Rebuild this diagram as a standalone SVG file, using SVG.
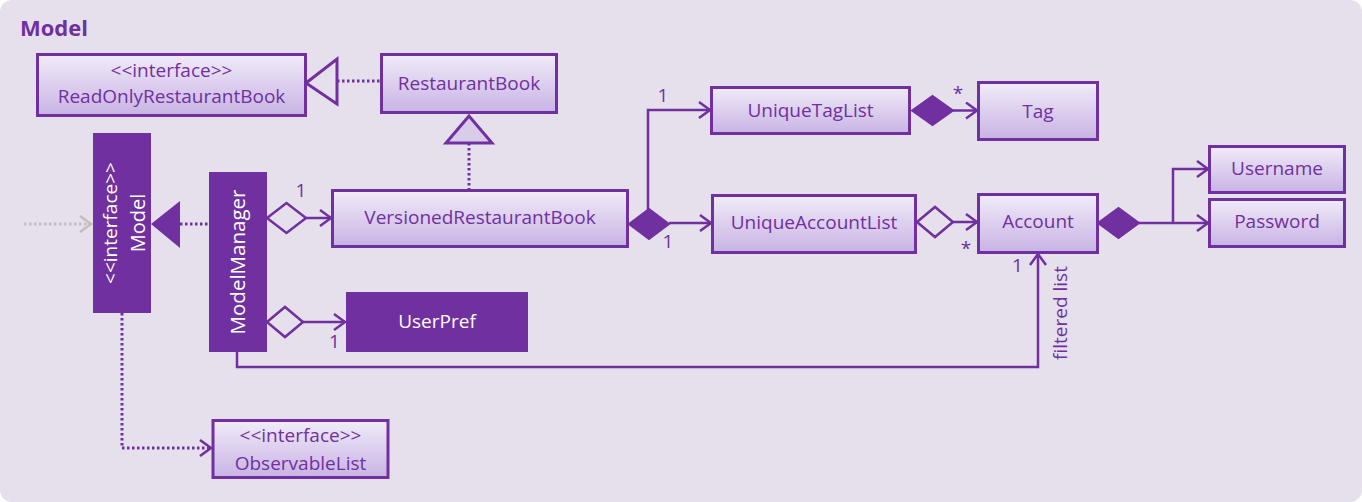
<svg xmlns="http://www.w3.org/2000/svg" width="1362" height="502" viewBox="0 0 1362 502">
<defs>
<linearGradient id="g" x1="0" y1="0" x2="0" y2="1">
<stop offset="0" stop-color="#F1EBF9"/>
<stop offset="1" stop-color="#C8B3E4"/>
</linearGradient>
<marker id="ah" markerWidth="16" markerHeight="18" refX="13" refY="9" orient="auto" markerUnits="userSpaceOnUse">
<path d="M2,1 L13,9 L2,17" fill="none" stroke="#7030A0" stroke-width="2.5"/>
</marker>
<marker id="ahg" markerWidth="16" markerHeight="18" refX="13" refY="9" orient="auto" markerUnits="userSpaceOnUse">
<path d="M2,1 L13,9 L2,17" fill="none" stroke="#BFBFBF" stroke-width="2.5"/>
</marker>
</defs>
<style>
.box{fill:url(#g);stroke:#7030A0;stroke-width:3}
.dark{fill:#7030A0;stroke:#7030A0;stroke-width:1}
.t{font-family:"Open Sans","Liberation Sans",sans-serif;font-size:19px;fill:#7030A0;text-anchor:middle}
.w{font-family:"Open Sans","Liberation Sans",sans-serif;font-size:19px;fill:#FFFFFF;text-anchor:middle}
.lbl{font-family:"Open Sans","Liberation Sans",sans-serif;font-size:19px;fill:#7030A0;text-anchor:middle}
.ln{fill:none;stroke:#7030A0;stroke-width:2.5}
.dot{fill:none;stroke:#7030A0;stroke-width:3;stroke-dasharray:2.5 2.5}
.dotg{fill:none;stroke:#BFBFBF;stroke-width:3;stroke-dasharray:2.5 2.5}
.hd{fill:#E6E0EC;stroke:#7030A0;stroke-width:2.5}
.fd{fill:#7030A0;stroke:#7030A0;stroke-width:2}
</style>
<rect x="0" y="0" width="1362" height="502" rx="12" fill="#E6E0EC"/>
<text x="20" y="36" style="font-family:'Open Sans','Liberation Sans',sans-serif;font-size:22px;font-weight:bold;fill:#7030A0">Model</text>

<g id="connectors">
<path class="dot" d="M337,81 H381"/>
<polygon points="306,83 337,59 337,104" fill="#E6E0EC" stroke="#7030A0" stroke-width="3"/>
<path class="dot" d="M469,143 V190"/>
<polygon points="469,116 446,143 492,143" fill="#D9CCEB" stroke="#7030A0" stroke-width="3"/>
<path class="dot" d="M180,224 H209"/>
<polygon points="151,224 180,201 180,248" fill="#7030A0"/>
<path class="dotg" d="M24,224 H91" marker-end="url(#ahg)"/>
<path class="dot" d="M122,313 V448 H211" marker-end="url(#ah)"/>
<polygon class="hd" points="267,218 286.5,203 306,218 286.5,233"/>
<path class="ln" d="M306,218 H331" marker-end="url(#ah)"/>
<text class="lbl" x="301" y="197">1</text>
<polygon class="hd" points="267,322 285,307 303,322 285,337"/>
<path class="ln" d="M303,322 H345" marker-end="url(#ah)"/>
<text class="lbl" x="334.5" y="348">1</text>
<path class="ln" d="M237,352 V367 H1038 V254" marker-end="url(#ah)"/>
<text class="lbl" x="1017.5" y="272">1</text>
<text class="lbl" transform="translate(1067,313) rotate(-90)">filtered list</text>
<path class="ln" d="M648,224 V110 H710" marker-end="url(#ah)"/>
<text class="lbl" x="663" y="102">1</text>
<path class="ln" d="M669,223 H711" marker-end="url(#ah)"/>
<polygon class="fd" points="629,224 649,209 669,224 649,239"/>
<text class="lbl" x="668" y="248">1</text>
<polygon class="fd" points="912,110.5 932.5,96 953,110.5 932.5,125"/>
<path class="ln" d="M953,110.5 H977" marker-end="url(#ah)"/>
<text class="lbl" x="958" y="100">*</text>
<polygon class="hd" points="917,222 935,207 953,222 935,237"/>
<path class="ln" d="M953,222 H977" marker-end="url(#ah)"/>
<text class="lbl" x="966" y="255">*</text>
<polygon class="fd" points="1098,223 1118.5,208 1139,223 1118.5,238"/>
<path class="ln" d="M1139,223 H1208" marker-end="url(#ah)"/>
<path class="ln" d="M1173,223 V169 H1208" marker-end="url(#ah)"/>
</g>

<g id="ReadOnlyRestaurantBook">
<rect class="box" x="37.5" y="54.5" width="268" height="61"/>
<text class="t" x="171.5" y="77">&lt;&lt;interface&gt;&gt;</text>
<text class="t" x="171.5" y="103">ReadOnlyRestaurantBook</text>
</g>
<g id="RestaurantBook">
<rect class="box" x="381.5" y="54.5" width="175" height="58"/>
<text class="t" x="469" y="90">RestaurantBook</text>
</g>
<g id="Model">
<rect class="dark" x="93.5" y="133.5" width="57" height="179"/>
<text class="w" transform="translate(117,223) rotate(-90)">&lt;&lt;interface&gt;&gt;</text>
<text class="w" transform="translate(144.5,223) rotate(-90)" style="font-size:20px">Model</text>
</g>
<g id="ModelManager">
<rect class="dark" x="209.5" y="172.5" width="57" height="179"/>
<text class="w" transform="translate(245,262) rotate(-90)" style="font-size:20.5px">ModelManager</text>
</g>
<g id="VersionedRestaurantBook">
<rect class="box" x="332.5" y="190.5" width="295" height="56"/>
<text class="t" x="480" y="224">VersionedRestaurantBook</text>
</g>
<g id="UserPref">
<rect class="dark" x="346.5" y="292.5" width="181" height="59"/>
<text class="w" x="437" y="328">UserPref</text>
</g>
<g id="UniqueTagList">
<rect class="box" x="711.5" y="87.5" width="198" height="46"/>
<text class="t" x="810.5" y="117">UniqueTagList</text>
</g>
<g id="Tag">
<rect class="box" x="978.5" y="82.5" width="119" height="57"/>
<text class="t" x="1038" y="118">Tag</text>
</g>
<g id="UniqueAccountList">
<rect class="box" x="712.5" y="195.5" width="203" height="57"/>
<text class="t" x="814" y="229">UniqueAccountList</text>
</g>
<g id="Account">
<rect class="box" x="978.5" y="194.5" width="119" height="58"/>
<text class="t" x="1038" y="228">Account</text>
</g>
<g id="Username">
<rect class="box" x="1209.5" y="146.5" width="135" height="46"/>
<text class="t" x="1277" y="175">Username</text>
</g>
<g id="Password">
<rect class="box" x="1209.5" y="199.5" width="135" height="47"/>
<text class="t" x="1277" y="228">Password</text>
</g>
<g id="ObservableList">
<rect class="box" x="213" y="420.5" width="175" height="57"/>
<text class="t" x="300.5" y="442">&lt;&lt;interface&gt;&gt;</text>
<text class="t" x="300.5" y="470">ObservableList</text>
</g>
</svg>
